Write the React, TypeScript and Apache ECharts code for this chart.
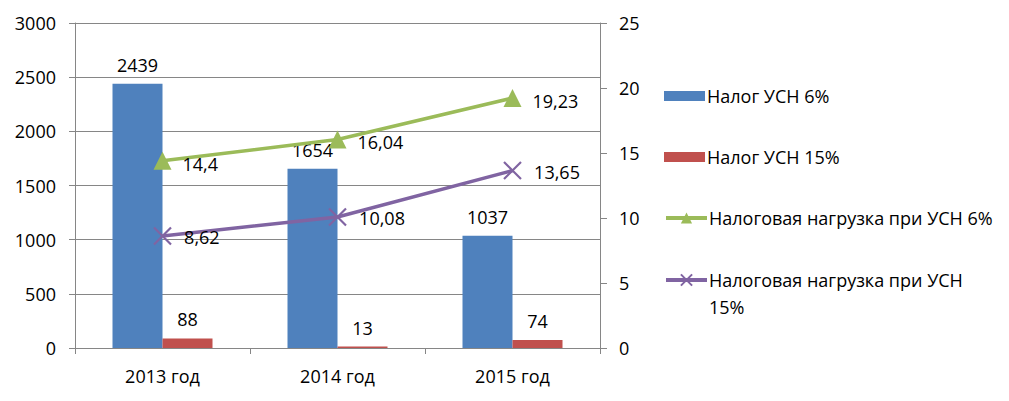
import React, { useEffect, useRef } from "react";
import * as echarts from "echarts";

const categories = ["2013 год", "2014 год", "2015 год"];
const tax6 = [2439, 1654, 1037];
const tax15 = [88, 13, 74];
const load6 = [14.4, 16.04, 19.23];
const load15 = [8.62, 10.08, 13.65];
const leftTicks = { min: 0, max: 3000, interval: 500 };
const rightTicks = { min: 0, max: 25, interval: 5 };

const names = [
  "Налог УСН 6%",
  "Налог УСН 15%",
  "Налоговая нагрузка при УСН 6%",
  "Налоговая нагрузка при УСН 15%",
];

const FONT = "Open Sans";
const FS = 18;
const fmtComma = (v: number) => String(v).replace(".", ",");

export default function App() {
  const ref = useRef<HTMLDivElement>(null);
  useEffect(() => {
    if (!ref.current) return;
    const chart = echarts.init(ref.current, null, { renderer: "svg" });
    const textBase = { fontFamily: FONT, fontSize: FS, color: "#000" };
    const crossPath = "path://M0,0L10,10M10,0L0,10";
    const legendBase = {
      orient: "vertical",
      left: 664,
      padding: 0,
      itemWidth: 41,
    };
    chart.setOption({
      animation: false,
      textStyle: { fontFamily: FONT },
      grid: { left: 75, right: 409, top: 23, bottom: 53, containLabel: false },
      legend: [
        {
          ...legendBase,
          top: 85,
          itemHeight: 10,
          itemGap: 39,
          icon: "rect",
          textStyle: { ...textBase, lineHeight: 22, padding: [0, 0, 0, -3] },
          data: [names[0], names[1]],
        },
        {
          ...legendBase,
          top: 207,
          itemHeight: 14,
          lineStyle: { width: 4, color: "#9bbb59" },
          textStyle: { ...textBase, lineHeight: 22, padding: [0, 0, 0, -3] },
          data: [{ name: names[2], lineStyle: { width: 4, color: "#9bbb59" } }],
        },
        {
          ...legendBase,
          top: 239.5,
          itemHeight: 14,
          lineStyle: { width: 4, color: "#8064a2" },
          textStyle: { ...textBase, lineHeight: 27, padding: [0, 0, 0, -3] },
          formatter: () => "\nНалоговая нагрузка при УСН\n15%",
          data: [{ name: names[3], lineStyle: { width: 4, color: "#8064a2" } }],
        },
      ],
      xAxis: {
        type: "category",
        data: categories,
        boundaryGap: true,
        axisLine: { lineStyle: { color: "#868686", width: 1 } },
        axisTick: { show: true, length: 6, lineStyle: { color: "#868686" } },
        axisLabel: { ...textBase, margin: 19 },
        splitLine: { show: false },
      },
      yAxis: [
        {
          type: "value",
          ...leftTicks,
          position: "left",
          axisLine: { show: true, lineStyle: { color: "#868686", width: 1 } },
          axisTick: { show: true, length: 6, lineStyle: { color: "#868686" } },
          axisLabel: { ...textBase, margin: 19, formatter: (v: number) => String(v) },
          splitLine: { show: true, lineStyle: { color: "#868686", width: 1 } },
        },
        {
          type: "value",
          ...rightTicks,
          position: "right",
          axisLine: { show: true, lineStyle: { color: "#868686", width: 1 } },
          axisTick: { show: true, length: 7, lineStyle: { color: "#868686" } },
          axisLabel: { ...textBase, margin: 19, formatter: (v: number) => String(v) },
          splitLine: { show: false },
        },
      ],
      series: [
        {
          name: names[0],
          type: "bar",
          data: tax6,
          barWidth: 50,
          barGap: "0%",
          itemStyle: { color: "#4f81bd" },
          label: { show: true, position: "top", distance: 10, ...textBase },
        },
        {
          name: names[1],
          type: "bar",
          data: tax15,
          barWidth: 50,
          barGap: "0%",
          itemStyle: { color: "#c0504d" },
          label: { show: true, position: "top", distance: 10, ...textBase },
        },
        {
          name: names[2],
          type: "line",
          yAxisIndex: 1,
          data: load6,
          symbol: "triangle",
          symbolSize: 18,
          lineStyle: { color: "#9bbb59", width: 3.5 },
          itemStyle: { color: "#9bbb59" },
          label: {
            show: true,
            position: "right",
            distance: 11,
            offset: [0, 3],
            ...textBase,
            formatter: (p: any) => fmtComma(p.value),
          },
          z: 5,
        },
        {
          name: names[3],
          type: "line",
          yAxisIndex: 1,
          data: load15,
          symbol: crossPath,
          symbolSize: 17,
          lineStyle: { color: "#8064a2", width: 3.5 },
          itemStyle: { color: "#8064a2", borderColor: "#8064a2", borderWidth: 2.2 },
          label: {
            show: true,
            position: "right",
            distance: 12,
            offset: [0, 1],
            ...textBase,
            formatter: (p: any) => fmtComma(p.value),
          },
          z: 5,
        },
      ],
    });
    return () => chart.dispose();
  }, []);
  return (
    <div
      ref={ref}
      style={{ width: 1009, height: 401, position: "absolute", left: 0, top: 0, background: "#fff" }}
    />
  );
}
